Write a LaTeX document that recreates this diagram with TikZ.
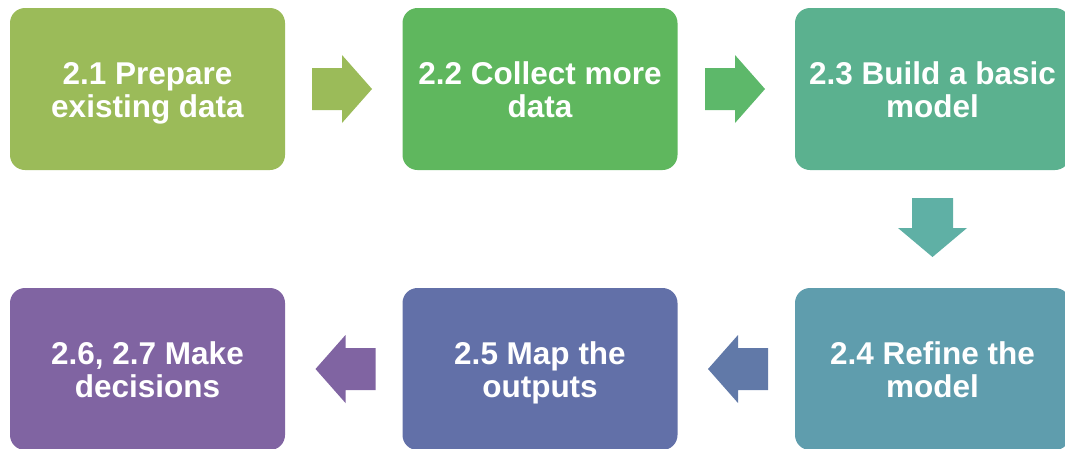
\documentclass[tikz,border=0pt]{standalone}
\usepackage{fontspec}
\setmainfont{Liberation Sans}
\definecolor{c1}{HTML}{9BBB59}
\definecolor{c2}{HTML}{5FB75E}
\definecolor{c3}{HTML}{5BB18F}
\definecolor{c4}{HTML}{5F9DAD}
\definecolor{c5}{HTML}{6270A8}
\definecolor{c6}{HTML}{8064A2}
\definecolor{a2}{HTML}{5DB86A}
\definecolor{a3}{HTML}{5FB0A5}
\definecolor{a4}{HTML}{6179A8}
\definecolor{a5}{HTML}{8064A2}
\tikzset{
  stage/.style={draw=none, fill=#1, rounded corners=15pt, minimum width=275pt, minimum height=162pt,
    inner sep=0pt, align=center, text=white, font=\bfseries\fontsize{31.5}{33}\selectfont},
}
\newcommand\fl{\rule{0pt}{31pt}}
\newcommand\myarrowR[2]{\fill[#2, shift={(#1)}] (-30,-21) -- (0,-21) -- (0,-34) -- (30,0) -- (0,34) -- (0,21) -- (-30,21) -- cycle;}
\newcommand\myarrowL[2]{\fill[#2, shift={(#1)}] (30,-21) -- (0,-21) -- (0,-34) -- (-30,0) -- (0,34) -- (0,21) -- (30,21) -- cycle;}
\newcommand\myarrowD[2]{\fill[#2, shift={(#1)}] (-20.5,-30) -- (-20.5,0) -- (-34.5,0) -- (0,29) -- (34.5,0) -- (20.5,0) -- (20.5,-30) -- cycle;}
\begin{document}
\begin{tikzpicture}[x=1pt,y=-1pt]
\useasboundingbox (0,0) rectangle (1065,448);
\begin{scope}
\clip (0,0) rectangle (1065,448);
\node[stage=c1] (b1) at (147.5,89) {\fl 2.1 Prepare\\existing data\vphantom{g}};
\node[stage=c2] (b2) at (540,89) {\fl 2.2 Collect more\\data\vphantom{g}};
\node[stage=c3] (b3) at (932.5,89) {\fl 2.3 Build a basic\\model\vphantom{g}};
\node[stage=c4] (b4) at (932.5,369) {\fl 2.4 Refine the\\model\vphantom{g}};
\node[stage=c5] (b5) at (540,369) {\fl 2.5 Map the\\outputs\vphantom{g}};
\node[stage=c6] (b6) at (147.5,369) {\fl 2.6, 2.7 Make\\decisions\vphantom{g}};
\coordinate (ar1) at (342,89);
\coordinate (ar2) at (735,89);
\coordinate (ar3) at (932.5,228);
\coordinate (ar4) at (738,369);
\coordinate (ar5) at (345.5,369);
\myarrowR{ar1}{c1}
\myarrowR{ar2}{a2}
\myarrowD{ar3}{a3}
\myarrowL{ar4}{a4}
\myarrowL{ar5}{a5}
\end{scope}
\end{tikzpicture}
\end{document}
